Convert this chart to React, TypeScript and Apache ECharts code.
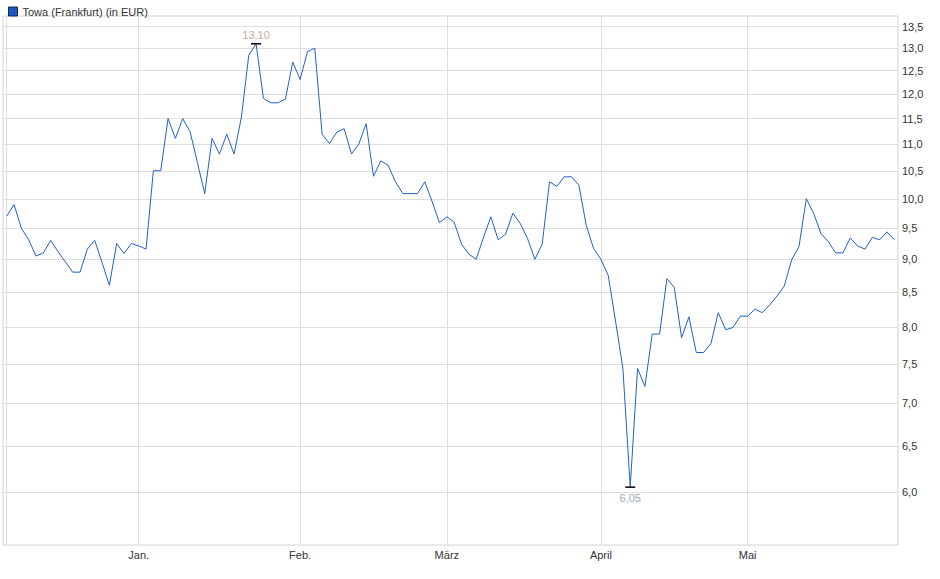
import * as echarts from 'echarts';
import { useEffect, useRef } from 'react';

const SERIES_NAME = 'Towa (Frankfurt) (in EUR)';
const FONT = "'Liberation Sans', Arial, sans-serif";

// Frankfurt trading days, Dec 2024 - May 2025
const dates = [
  '2024-12-02', '2024-12-03', '2024-12-04', '2024-12-05', '2024-12-06', '2024-12-09', '2024-12-10', '2024-12-11',
  '2024-12-12', '2024-12-13', '2024-12-16', '2024-12-17', '2024-12-18', '2024-12-19', '2024-12-20', '2024-12-23',
  '2024-12-27', '2024-12-30',
  '2025-01-02', '2025-01-03', '2025-01-06', '2025-01-07', '2025-01-08', '2025-01-09', '2025-01-10', '2025-01-13',
  '2025-01-14', '2025-01-15', '2025-01-16', '2025-01-17', '2025-01-20', '2025-01-21', '2025-01-22', '2025-01-23',
  '2025-01-24', '2025-01-27', '2025-01-28', '2025-01-29', '2025-01-30', '2025-01-31',
  '2025-02-03', '2025-02-04', '2025-02-05', '2025-02-06', '2025-02-07', '2025-02-10', '2025-02-11', '2025-02-12',
  '2025-02-13', '2025-02-14', '2025-02-17', '2025-02-18', '2025-02-19', '2025-02-20', '2025-02-21', '2025-02-24',
  '2025-02-25', '2025-02-26', '2025-02-27', '2025-02-28',
  '2025-03-03', '2025-03-04', '2025-03-05', '2025-03-06', '2025-03-07', '2025-03-10', '2025-03-11', '2025-03-12',
  '2025-03-13', '2025-03-14', '2025-03-17', '2025-03-18', '2025-03-19', '2025-03-20', '2025-03-21', '2025-03-24',
  '2025-03-25', '2025-03-26', '2025-03-27', '2025-03-28', '2025-03-31',
  '2025-04-01', '2025-04-02', '2025-04-03', '2025-04-04', '2025-04-07', '2025-04-08', '2025-04-09', '2025-04-10',
  '2025-04-11', '2025-04-14', '2025-04-15', '2025-04-16', '2025-04-17', '2025-04-22', '2025-04-23', '2025-04-24',
  '2025-04-25', '2025-04-28', '2025-04-29', '2025-04-30',
  '2025-05-02', '2025-05-05', '2025-05-06', '2025-05-07', '2025-05-08', '2025-05-09', '2025-05-12', '2025-05-13',
  '2025-05-14', '2025-05-15', '2025-05-16', '2025-05-19', '2025-05-20', '2025-05-21', '2025-05-22', '2025-05-23',
  '2025-05-26', '2025-05-27', '2025-05-28', '2025-05-29', '2025-05-30',
];

const prices = [
  9.70, 9.90, 9.50, 9.31, 9.05, 9.10, 9.30, 9.12, 8.96, 8.80, 8.80, 9.16, 9.30, 8.95, 8.60, 9.25, 9.09, 9.25,
  9.21, 9.16, 10.50, 10.50, 11.50, 11.11, 11.50, 11.24, 10.65, 10.09, 11.11, 10.81, 11.19, 10.81, 11.53, 12.84,
  13.10, 11.91, 11.82, 11.82, 11.90, 12.69,
  12.31, 12.92, 13.00, 11.19, 11.01, 11.23, 11.30, 10.81, 11.00, 11.40, 10.40, 10.68, 10.60, 10.30, 10.09, 10.09,
  10.09, 10.30, 9.95, 9.59,
  9.69, 9.60, 9.24, 9.08, 9.00, 9.35, 9.69, 9.31, 9.40, 9.75, 9.58, 9.33, 9.00, 9.24, 10.30, 10.22, 10.39, 10.39,
  10.24, 9.55, 9.17,
  9.00, 8.75, 8.08, 7.44, 6.05, 7.44, 7.21, 7.90, 7.90, 8.70, 8.57, 7.85, 8.14, 7.65, 7.65, 7.77, 8.20, 7.96,
  7.99, 8.15,
  8.15, 8.25, 8.20, 8.31, 8.44, 8.59, 8.99, 9.20, 10.00, 9.75, 9.41, 9.28, 9.10, 9.10, 9.34, 9.21, 9.16, 9.35,
  9.31, 9.44, 9.31,
];

const yTicks = [6.0, 6.5, 7.0, 7.5, 8.0, 8.5, 9.0, 9.5, 10.0, 10.5, 11.0, 11.5, 12.0, 12.5, 13.0, 13.5];
const yMin = 5.47;
const yMax = 13.75;

const monthNames: Record<string, string> = {
  '12': '',
  '01': 'Jan.',
  '02': 'Feb.',
  '03': 'März',
  '04': 'April',
  '05': 'Mai',
};

const deComma = (v: number, digits: number) => v.toFixed(digits).replace('.', ',');

export default function App() {
  const chartRef = useRef<HTMLDivElement>(null);

  useEffect(() => {
    if (!chartRef.current) return;
    const chart = echarts.init(chartRef.current, null, { renderer: 'svg' });

    // first trading day of each month -> vertical grid line + label
    const monthStarts = dates
      .map((d, i) => (i === 0 || d.slice(5, 7) !== dates[i - 1].slice(5, 7) ? i : -1))
      .filter(i => i >= 0);
    const logTicks = yTicks.map(v => Math.log(v));

    chart.setOption({
      animation: false,
      backgroundColor: '#fff',
      textStyle: { fontFamily: FONT },
      legend: {
        left: 3,
        top: 1,
        itemWidth: 9,
        itemHeight: 9,
        icon: 'rect',
        selectedMode: false,
        textStyle: { color: '#333', fontSize: 11, fontFamily: FONT },
        itemStyle: { color: '#1f55bd', borderColor: '#0d2a66', borderWidth: 1 },
        data: [SERIES_NAME],
      },
      grid: {
        left: 3,
        right: 42,
        top: 16,
        bottom: 34,
        show: true,
        borderColor: '#d4d4d4',
        borderWidth: 1,
        backgroundColor: 'transparent',
      },
      xAxis: {
        type: 'value',
        min: -0.5,
        max: dates.length - 0.5,
        axisLine: { show: false },
        axisTick: { show: false, customValues: monthStarts },
        axisLabel: {
          customValues: monthStarts,
          color: '#333',
          fontSize: 11,
          fontFamily: FONT,
          margin: 4,
          formatter: (v: number) => monthNames[dates[Math.round(v)].slice(5, 7)] ?? '',
        },
        splitLine: { show: true, lineStyle: { color: '#dedede', width: 1 } },
      },
      yAxis: {
        type: 'value',
        position: 'right',
        min: Math.log(yMin),
        max: Math.log(yMax),
        axisLine: { show: false },
        axisTick: { show: false, customValues: logTicks },
        axisLabel: {
          customValues: logTicks,
          color: '#333',
          fontSize: 11,
          fontFamily: FONT,
          margin: 4,
          formatter: (v: number) => deComma(Math.exp(v), 1),
        },
        splitLine: { show: true, lineStyle: { color: '#dedede', width: 1 } },
      },
      series: [
        {
          name: SERIES_NAME,
          type: 'line',
          data: prices.map((p, i) => [i, Math.log(p)]),
          showSymbol: false,
          symbol: 'none',
          lineStyle: { color: '#2160c8', width: 1 },
          itemStyle: { color: '#1f55bd' },
          markPoint: {
            symbol: 'rect',
            symbolSize: [10, 1.5],
            itemStyle: { color: '#000' },
            data: [
              {
                type: 'max',
                valueDim: 'y',
                label: { position: 'top', distance: 3, color: '#bfab9a' },
              },
              {
                type: 'min',
                valueDim: 'y',
                label: { position: 'bottom', distance: 5, color: '#9aa9bb' },
              },
            ],
            label: {
              fontSize: 11,
              fontFamily: FONT,
              formatter: (p: any) => deComma(Math.exp(p.value), 2),
            },
          },
        },
      ],
    });

    return () => chart.dispose();
  }, []);

  return (
    <div
      ref={chartRef}
      style={{ position: 'fixed', left: 0, top: 0, width: 940, height: 579 }}
    />
  );
}
